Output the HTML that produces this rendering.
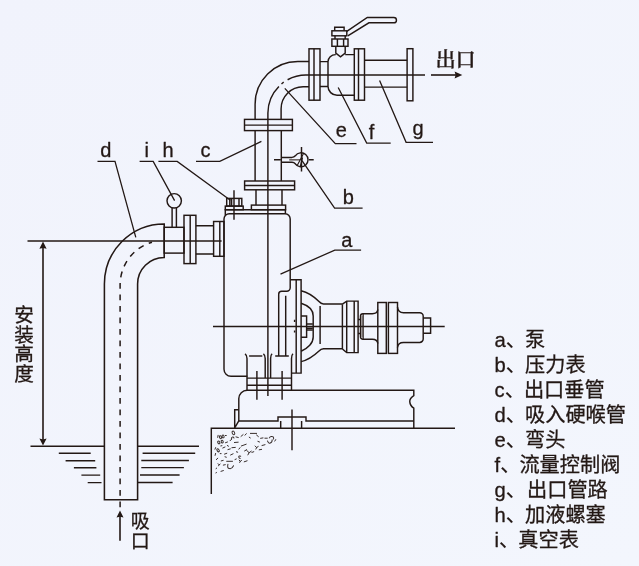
<!DOCTYPE html>
<html lang="zh-CN">
<head>
<meta charset="utf-8">
<title>Pump</title>
<style>
html,body{margin:0;padding:0;background:#f2f4fc;}
body{width:639px;height:566px;overflow:hidden;position:relative;}
svg{position:absolute;left:0;top:0;display:block;will-change:transform;}
text{font-family:"Liberation Sans","Noto Sans CJK SC",sans-serif;fill:#231815;stroke:#231815;stroke-width:0.3px;stroke-linejoin:round;}
.lbl{font-size:20px;}
.leg{font-size:20.2px;}
.cn{font-size:19.6px;}
.serif{font-family:"Liberation Serif","Noto Serif CJK SC",serif;font-size:20.2px;font-weight:600;}
.m{stroke-width:1.45;}
.t{stroke-width:1.45;}
.f{fill:#231815;stroke:none;}
</style>
</head>
<body>
<svg width="639" height="566" viewBox="0 0 639 566" fill="none" stroke="#231815" stroke-width="1.45" stroke-linecap="butt" stroke-linejoin="miter">
<defs>
<linearGradient id="bgw" x1="0" y1="0" x2="1" y2="1">
<stop offset="0" stop-color="#f1f3fc"/><stop offset="1" stop-color="#f3f6fd"/>
</linearGradient>
</defs>
<rect x="0" y="0" width="639" height="566" fill="url(#bgw)" stroke="none"/>

<!-- ===== suction pipe d ===== -->
<g id="suction">
<path d="M104.4,499.7 L104.4,284 A59.8,60 0 0 1 164.2,224 L164.2,257.5 A26.6,26.5 0 0 0 137.6,284 L137.6,499.7 Z" stroke-width="1.55"/>
<path d="M120.1,507.3 L120.1,285 A43.9,44.5 0 0 1 152,242.2" stroke-width="1.5" stroke-dasharray="5.9 5.6"/>
<!-- horizontal section -->
<rect x="164.2" y="227.3" width="19.8" height="25.8"/>
<rect x="184" y="215.3" width="11.9" height="48.3"/>
<path d="M190.2,215.3V263.6"/>
<path d="M195.9,225.7H213.6M195.9,253.9H213.6"/>
<rect x="213.6" y="221.5" width="10.4" height="34.8"/>
<path d="M219.8,221.5V256.3"/>
<!-- dimension / centre line -->
<path class="t" d="M27.5,240.9H221.6"/>
<!-- vacuum gauge i -->
<circle cx="174.2" cy="200.8" r="7.2"/>
<path d="M172.1,208V227.3M176.4,208V227.3"/>
</g>

<!-- ===== dimension arrow ===== -->
<g id="dim">
<path d="M43,246V441" stroke-width="1.6"/>
<path class="f" d="M43,241.6L46.6,248.8L43,248L39.4,248.8Z"/>
<path class="f" d="M43,445.4L46.6,438.6L43,439.4L39.4,438.6Z"/>
</g>

<!-- ===== water ===== -->
<g id="water" stroke-width="1.45">
<path d="M30.5,446.3H104.7M137.7,446.3H199"/>
<path d="M58.8,453.2H90.7M65.6,460.7H95.2M73.9,467.7H96.4M81.4,475.1H100.2M87.7,482.6H101.5"/>
<path d="M142.6,453.3H195.2M141.3,460.5H188.9M141.3,467.6H183.9M140,475H179.6M137.7,482.5H172.6"/>
</g>

<!-- inlet arrow -->
<path d="M120,540.8V515" stroke-width="1.6"/>
<path class="f" d="M120,510.6L123.5,517.6L120,516.8L116.5,517.6Z"/>

<!-- ===== pump a ===== -->
<g id="pump">
<!-- body outline + volute -->
<path d="M247.4,376.2 H231 A7,7 0 0 1 224,369.2 V219 A5.3,5.3 0 0 1 229.3,213.7 H285 A5.2,5.2 0 0 1 290.2,219 V287.8 A3.5,3.5 0 0 1 286.7,291.3 H281.7 A3,3 0 0 0 278.7,294.3 V356"/>
<path d="M285.7,295.7V356M275.2,356H288.8"/>
<!-- lid -->
<path d="M225.3,215.5V209.7H285.4V213.7"/>
<!-- h plug -->
<rect x="226.7" y="198.4" width="15.1" height="7.7"/>
<path class="t" d="M229.8,198.4V206.1M231.6,198.4V206.1M239,198.4V206.1"/>
<rect x="225.3" y="206.1" width="17.9" height="3.6"/>
<path class="t" d="M234,190.2V219.8"/>
<!-- rear plate -->
<path d="M290.2,279.8H301.1V373.1H291.8M296.2,279.8V373.1"/>
<path class="t" d="M294.6,319.8v2.2M294.6,330.4v2.2"/>
<!-- bracket dome -->
<path d="M301.1,290.7 C309,292.5 315,297.5 319,301.5 Q321,303.9 323.5,303.9 H342.4"/>
<path d="M301.1,361.6 C309,359.8 315,354.8 319,351 Q321,348.7 323.5,348.7 H342.4"/>
<path d="M301.1,303.3 C308,305.5 313.2,310 313.2,316 V337 C313.2,343 308,348.5 301.1,351.2"/>
<path d="M320.1,306.1V344.1"/>
<path d="M301.1,315.9H306.6V337.3H301.1"/>
<path class="t" d="M306.6,323.9H312.8M306.6,329.9H312.8M306.6,328.2H312.8"/>
<!-- bracket flange -->
<path d="M342.4,304.2 L346.7,301.1 H358.1 V352.6 H346.7 L342.4,349"/>
<path d="M342.4,304.2V349M346.7,301.1V352.6M354.2,301.1V352.6"/>
<!-- coupling -->
<path d="M358.1,319.5H360.5M358.1,333.4H360.5"/>
<path d="M377.8,309.5 Q377.4,313.7 372.3,313.7 H362.9 A2.4,2.4 0 0 0 360.5,316.1 V336.9 A2.4,2.4 0 0 0 362.9,339.3 H372.3 Q377.4,339.3 377.8,343.5"/>
<path d="M361,315.4H363V337.6H361Z" fill="#9c9796" stroke="none"/>
<path d="M363.2,314V339" stroke-width="1.1"/>
<rect x="377.8" y="302.5" width="8.5" height="50.9"/>
<rect x="388.4" y="302.5" width="9.1" height="50.9"/>
<path d="M397.5,307 Q398,312.7 403.5,312.7 H419.7 A3.5,3.5 0 0 1 423.2,316.2 V338.9 A3.5,3.5 0 0 1 419.7,342.4 H403.5 Q398,342.4 397.5,347.5"/>
<path d="M423.2,317.9H430.6V333.2H423.2"/>
<!-- shaft centre line -->
<path class="t" d="M213,326.5H444.7"/>
<!-- legs -->
<path d="M245,353.8 Q247,355 247,358.5 V390.2"/>
<path d="M249.1,356H262.3"/>
<path d="M263.4,353.8 Q265.2,355 265.2,358.5 V378.1"/>
<path d="M272.1,353.8 Q270.6,355 270.6,358.5 V378.1"/>
<path d="M293,353.8 Q291.5,355 291.5,358.5 V390.2"/>
<path d="M247,378.1H291.5M247,385.2H291.5"/>
<path class="t" d="M256.9,371.1V399.7M282.1,371.1V399.7"/>
</g>

<!-- ===== outlet pipe c, elbow e, valve f, pipe g ===== -->
<g id="outlet">
<!-- plate + short pipe on lid -->
<rect x="251.4" y="205.1" width="34.2" height="4.6"/>
<path d="M256,189.8V205.1M282,189.8V205.1"/>
<!-- lower flange -->
<rect x="244.6" y="181" width="50" height="8.8"/>
<path d="M244.6,185.5H294.6"/>
<!-- vertical pipe -->
<path d="M255.1,130.6V181M281.3,130.6V181"/>
<!-- upper flange -->
<rect x="244.5" y="119.4" width="47.9" height="11.2"/>
<path d="M244.5,125.1H292.4"/>
<!-- elbow -->
<path d="M255.1,119.4V104.2A42.7,42.7 0 0 1 297.8,61.5H309"/>
<path d="M281.1,119.4V108.7A22,22 0 0 1 303.1,86.7H309"/>
<!-- flange A -->
<rect x="309" y="48.8" width="11" height="51.4"/>
<path d="M314,48.8V100.2"/>
<!-- valve body -->
<path d="M320,61.6H328M320,86.4H328M328,61.6V86.4"/>
<path d="M328,61.8 A7.5,7.2 0 0 1 335.5,54.6 H335.8 M345.2,54.6 H354.3"/>
<path d="M328,86.2 A9,9.1 0 0 0 337,95.3 H354.3"/>
<!-- stem -->
<path d="M335.8,46.3V53.2L340.5,56.8L345.2,53.2V46.3"/>
<!-- nut -->
<rect x="331.9" y="39" width="16.1" height="7.3"/>
<path class="t" d="M337.4,39V46.3M343.6,39V46.3"/>
<path d="M335,39V35.8M345.2,39V35.8"/>
<!-- handle base + cap -->
<rect x="331.9" y="30.8" width="14.9" height="5"/>
<path d="M334.7,30.8V27.2H344.1V30.8"/>
<!-- handle -->
<path d="M346.8,31.4 L367.3,17.5 H393.8 A2.65,2.65 0 0 1 393.8,22.8 H368.9 L347.8,35.8"/>
<!-- flange B -->
<rect x="354.3" y="48.8" width="10.2" height="51.4"/>
<path d="M358.5,48.8V100.2"/>
<!-- pipe g -->
<path d="M364.5,60.3H407.1M364.5,87.1H407.1"/>
<rect x="407.1" y="48.7" width="5.8" height="52.1"/>
<!-- centre line -->
<path class="t" d="M267.9,396V113A38,38 0 0 1 278.9,86.4"/>
<path class="t" d="M281.5,84A38,38 0 0 1 283.7,82.2"/>
<path class="t" d="M287.6,79.75A38,38 0 0 1 306,75H425"/>
<!-- outlet arrow -->
<path d="M431,75H456" stroke-width="1.6"/>
<path class="f" d="M462.3,75L454.6,71.6L455.6,75L454.6,78.4Z"/>
<!-- pressure gauge b -->
<path d="M281,157.4H292 Q294,157.2 295.3,155.8 A7,7 0 1 1 295.3,163.8 Q294,162.4 292,162.3H281"/>
<path class="t" d="M274,159.8H280.8M309,159.8H313.7M301.5,147V171.5"/>
<path d="M289.2,159.8H300" stroke="#6e6664" stroke-width="1.6"/>
<path d="M297.2,165.6L303.3,154.1M300.4,166L302.6,157.5" stroke-width="1.1"/>
</g>

<!-- ===== base / foundation ===== -->
<g id="base">
<path d="M238.8,420.9V398.6A8.4,8.4 0 0 1 247.2,390.2H413.8V395.6Q409.4,398.3 409.8,401.9Q410,405.6 413.8,408.2V428.4"/>
<path d="M238.8,409.8H234.7V427.9M238.8,420.9L234.7,427.9"/>
<path d="M238.8,420.9H278V416.9H306V420.9H413.8"/>
<path d="M280.7,420.9V428M301.6,420.9V428"/>
<path d="M455,428.3H211.3V494"/>
<path class="t" d="M292,409.5V450.3"/>
<g stroke-width="1" stroke-linecap="round" stroke-linejoin="round" opacity="0.9"><path d="M217.7,437.4L218.1,435.3"/><ellipse cx="220.5" cy="437.2" rx="1.0" ry="1.5" transform="rotate(-20 220.5 437.2)"/><ellipse cx="223.1" cy="436.4" rx="1.0" ry="1.5" transform="rotate(-10 223.1 436.4)"/><path d="M225.4,435.5L226.3,435.5"/><ellipse cx="233.4" cy="432.9" rx="1.2" ry="1.9" transform="rotate(-25 233.4 432.9)"/><path d="M231.2,436.9q0.3,1.7 1.4,1.4q1.2,-0.2 1.4,-1.5" transform="rotate(-200 232.5 437.7)"/><path d="M236.0,436.9L238.3,437.5"/><path d="M241.0,436.4L243.1,434.6"/><path d="M245.0,435.2L246.3,433.7"/><path d="M250.4,433.4L256.6,433.4"/><path d="M256.6,435.1L258.4,436.6"/><path d="M260.6,438.3L263.0,437.9"/><path d="M264.9,438.2L267.3,438.2"/><path d="M269.5,436.0q0.4,2.4 2.2,1.9q2.0,-0.2 2.2,-2.2" transform="rotate(-160 271.8 437.2)"/><path d="M267.7,440.5q0.5,3.1 2.4,2.5q2.2,-0.3 2.4,-2.8" transform="rotate(-10 270.1 442.0)"/><path d="M274.8,441.1L275.7,439.6"/><ellipse cx="218.8" cy="442.4" rx="1.0" ry="1.5" transform="rotate(-30 218.8 442.4)"/><ellipse cx="222.2" cy="441.7" rx="1.0" ry="1.4" transform="rotate(-15 222.2 441.7)"/><path d="M225.5,442.7L227.5,442.0"/><path d="M230.0,440.8L231.7,439.1"/><path d="M234.4,442.5L238.2,442.2"/><path d="M241.3,446.0L246.2,444.2"/><path d="M249.2,437.2L250.3,437.9"/><path d="M257.9,441.4L259.5,442.0"/><path d="M262.0,445.5L265.0,444.7"/><path d="M255.1,446.0L256.6,447.5L258.2,446.5M256.6,447.5L255.9,449.1"/><path d="M259.2,449.8L261.6,449.4"/><ellipse cx="218.1" cy="450.3" rx="1.0" ry="1.7" transform="rotate(-35 218.1 450.3)"/><path d="M215.0,449.2L215.6,447.6"/><path d="M222.8,448.0L225.0,447.0"/><path d="M227.9,449.6L230.3,448.9"/><path d="M231.9,447.7L235.3,447.4"/><path d="M244.6,450.9L246.7,449.7"/><path d="M246.8,450.5L249.1,452.7L251.3,451.2M249.1,452.7L247.9,454.9"/><path d="M251.9,452.4L253.8,451.7"/><path d="M215.1,455.4L215.6,453.4"/><path d="M220.2,453.6L221.1,453.6"/><path d="M224.5,454.1L226.8,453.3"/><path d="M230.6,455.0L233.1,453.8"/><path d="M236.4,451.8L237.7,452.2"/><path d="M238.2,456.0q0.2,2.1 1.2,1.7q1.1,-0.2 1.2,-1.9" transform="rotate(-250 239.4 457.0)"/><path d="M239.1,460.1L240.3,461.3L241.5,460.5M240.3,461.3L239.7,462.5"/><path d="M244.2,461.8L247.1,460.8"/><path d="M216.3,459.6L217.8,458.2"/><path d="M221.2,460.9L223.2,460.4"/><path d="M226.7,461.3L232.5,461.3"/><path d="M218.1,463.7L219.1,464.8L220.1,464.1M219.1,464.8L218.6,465.8"/><path d="M223.3,465.1L225.3,464.7"/><path d="M227.0,465.1q0.6,4.5 2.9,3.6q2.6,-0.4 2.9,-4.0" transform="rotate(20 230.0 467.3)"/><path d="M216.0,468.6L216.7,468.1"/><path d="M221.0,471.3L223.4,470.6"/><path d="M216.0,473.0L216.4,472.3"/><path d="M227.3,445.5L228.5,446.2"/><path d="M220.8,445.9L221.9,445.7"/><path d="M238.9,449.1L240.0,447.7"/><path d="M235.0,459.5L236.3,459.0"/><path d="M225.0,456.8L226.3,457.2"/></g>
</g>

<!-- ===== leaders ===== -->
<g id="leaders" stroke-width="1.3">
<path d="M97.5,161.4H115L135.8,237.4"/>
<path d="M139.6,161.4H153.2L174.6,200.6"/>
<path d="M158.4,161.4H177.2L230.4,200.2"/>
<path d="M196,161.4H219.8L261.4,141.4"/>
<path d="M284.8,88.4L335.3,143.6H356.5"/>
<path d="M338.2,87.5L366.7,143.1H390.7"/>
<path d="M379.6,80.4L406.1,142.3H433"/>
<path d="M302,160.7L334.6,208.1H362.6"/>
<path d="M280.5,274.2L334.8,250.1H361.1"/>
</g>

<!-- ===== text ===== -->
<g id="labels">
<text class="lbl" x="100.2" y="157">d</text>
<text class="lbl" x="144.6" y="157">i</text>
<text class="lbl" x="162.4" y="157">h</text>
<text class="lbl" x="200.4" y="157">c</text>
<text class="lbl" x="335.8" y="137.2">e</text>
<text class="lbl" x="368.8" y="139.1">f</text>
<text class="lbl" x="412.6" y="134.7">g</text>
<text class="lbl" x="342.8" y="203.7">b</text>
<text class="lbl" x="341.2" y="246.9">a</text>
</g>
<g id="cn">
<text class="cn" x="14.2" y="321.8">安</text>
<text class="cn" x="14.2" y="341.5">装</text>
<text class="cn" x="14.2" y="361.2">高</text>
<text class="cn" x="14.2" y="380.9">度</text>
<text class="cn" x="130.8" y="528" style="font-size:19px">吸</text>
<text class="cn" x="130.8" y="547.6" style="font-size:19px">口</text>
<text class="serif" x="435.4" y="66.8">出口</text>
</g>
<g id="legend">
<text class="leg" x="494.6" y="346.6">a、<tspan dx="-1.0">泵</tspan></text>
<text class="leg" x="494.6" y="371.7">b、<tspan dx="-1.0">压力表</tspan></text>
<text class="leg" x="494.6" y="396.8">c、<tspan dx="-1.0">出口垂管</tspan></text>
<text class="leg" x="494.6" y="421.8">d、<tspan dx="-1.0">吸入硬喉管</tspan></text>
<text class="leg" x="494.6" y="446.9">e、<tspan dx="-1.0">弯头</tspan></text>
<text class="leg" x="494.6" y="472.0">f、<tspan dx="-1.0">流量控制阀</tspan></text>
<text class="leg" x="494.6" y="497.1">g、<tspan dx="1.0">出口管路</tspan></text>
<text class="leg" x="494.6" y="522.2">h、<tspan dx="-1.0">加液螺塞</tspan></text>
<text class="leg" x="494.6" y="547.2">i、<tspan dx="-1.0">真空表</tspan></text>
</g>

</svg>
</body>
</html>
